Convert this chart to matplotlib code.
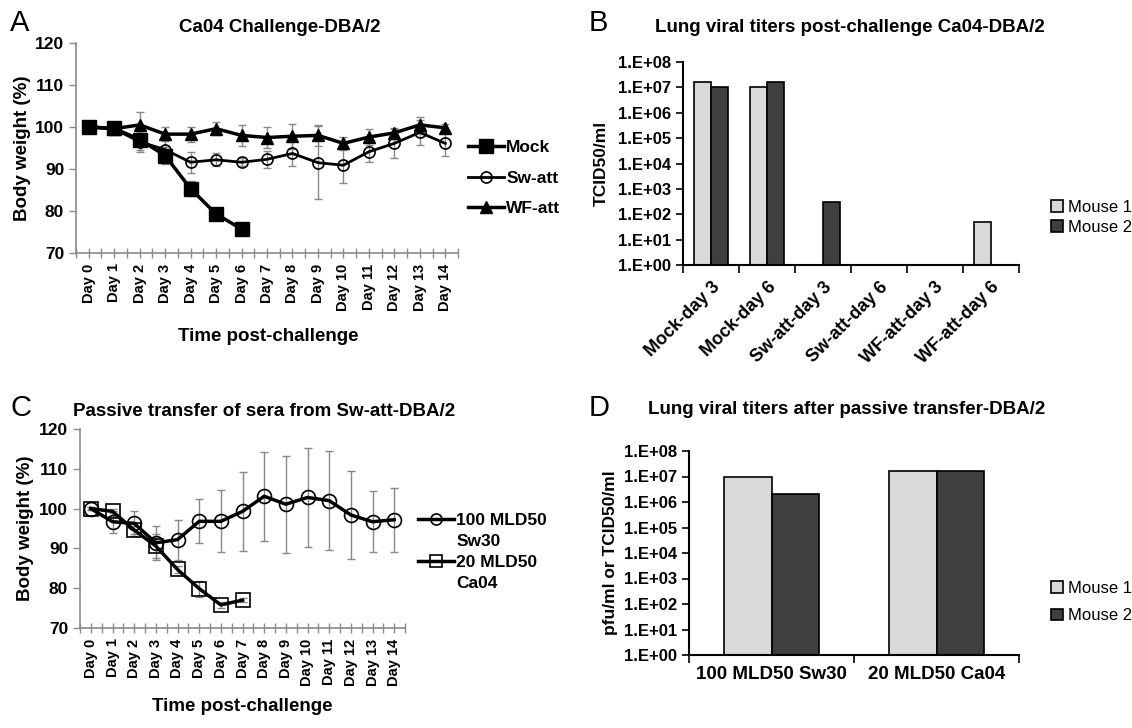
import matplotlib
matplotlib.use('Agg')
import matplotlib.pyplot as plt
import numpy as np
from matplotlib.lines import Line2D
from matplotlib.ticker import FixedLocator, FuncFormatter, NullLocator

plt.rcParams['font.family'] = ['Liberation Sans', 'DejaVu Sans']

W, H = 1132, 728

# ---- panel A data
days = ['Day %d' % d for d in range(15)]
mock = [100, 99.7, 97, 93.2, 85.3, 79.3, 75.7]
mock_err = [0.3, 0.5, 3, 2, 1.8, 0.6, 0.5]
sw_att = [100, 99.5, 96.5, 94.6, 91.6, 92.2, 91.6, 92.3, 93.7, 91.5, 90.9, 94.1, 96.1, 98.7, 96.1]
sw_att_err = [0.3, 0.5, 2, 2.5, 2.5, 1.5, 1.0, 2.0, 3.0, 8.7, 4.2, 2.5, 3.5, 3.0, 3.0]
wf_att = [100, 99.6, 100.5, 98.3, 98.3, 99.6, 98.0, 97.5, 97.8, 98.0, 96.1, 97.6, 98.6, 100.5, 99.8]
wf_att_err = [0.3, 0.5, 3.0, 1.6, 1.8, 1.5, 2.5, 2.5, 3.0, 2.5, 1.5, 2.0, 1.2, 1.8, 1.0]

# ---- panel B data
b_groups = ['Mock-day 3', 'Mock-day 6', 'Sw-att-day 3', 'Sw-att-day 6',
            'WF-att-day 3', 'WF-att-day 6']
b_mouse1 = [1.6e7, 1.0e7, np.nan, np.nan, np.nan, 50]
b_mouse2 = [1.0e7, 1.6e7, 300, np.nan, np.nan, np.nan]

# ---- panel C data
sw30 = [100, 96.7, 96.3, 91.4, 92.2, 96.8, 96.8, 99.3, 103.1, 101.1, 102.8, 102.0, 98.4, 96.7, 97.2]
sw30_err = [0.3, 2.8, 3.2, 4.2, 5.0, 5.5, 7.8, 10.0, 11.2, 12.2, 12.5, 12.4, 11.1, 7.7, 8.0]
ca04 = [100, 99.3, 94.6, 90.6, 84.7, 79.9, 75.8, 77.0]
ca04_err = [0.3, 0.5, 1.0, 3.0, 1.0, 2.0, 0.8, 0.5]

# ---- panel D data
d_groups = ['100 MLD50 Sw30', '20 MLD50 Ca04']
d_mouse1 = [1.0e7, 1.6e7]
d_mouse2 = [2.0e6, 1.6e7]

LIGHT = '#d9d9d9'
DARK = '#3f3f3f'
AXGRAY = '#8a8a8a'


def box(l, t, r, b):
    return [l / W, 1 - b / H, (r - l) / W, (b - t) / H]


def line_axes(ax):
    for s in ('top', 'right'):
        ax.spines[s].set_visible(False)
    for s in ('left', 'bottom'):
        ax.spines[s].set_color(AXGRAY)
        ax.spines[s].set_linewidth(1.2)
    ax.set_xlim(-0.5, 14.5)
    ax.set_ylim(70, 120)
    ax.set_yticks(range(70, 121, 10))
    ax.set_xticks(range(15))
    ax.set_xticklabels(days, rotation=90, fontsize=10.5, fontweight='bold')
    ax.xaxis.set_minor_locator(FixedLocator(np.arange(-0.5, 15, 1)))
    ax.tick_params(axis='x', which='both', direction='inout', length=7,
                   color=AXGRAY, width=1, pad=4)
    ax.tick_params(axis='y', direction='out', length=5, color=AXGRAY,
                   width=1, labelsize=12.5)
    for t in ax.get_yticklabels():
        t.set_fontweight('bold')


def bar_axes(ax, n):
    for s in ('top', 'right'):
        ax.spines[s].set_visible(False)
    for s in ('left', 'bottom'):
        ax.spines[s].set_color('black')
        ax.spines[s].set_linewidth(1.5)
    ax.set_yscale('log')
    ax.set_ylim(1, 1e8)
    ax.yaxis.set_major_locator(FixedLocator([10.0 ** k for k in range(9)]))
    ax.yaxis.set_minor_locator(NullLocator())
    ax.yaxis.set_major_formatter(FuncFormatter(lambda v, p: '1.E+%02d' % round(np.log10(v))))
    ax.tick_params(axis='y', direction='out', length=5, width=1.2, labelsize=12)
    for t in ax.get_yticklabels():
        t.set_fontweight('bold')
    ax.set_xlim(-0.5, n - 0.5)
    ax.set_xticks(range(n))
    ax.xaxis.set_minor_locator(FixedLocator(np.arange(-0.5, n, 1)))
    ax.tick_params(axis='x', which='major', length=0)
    ax.tick_params(axis='x', which='minor', direction='out', length=6, width=1.2)


fig = plt.figure(figsize=(W / 100, H / 100), dpi=100)

# ---------------- A
axA = fig.add_axes(box(76, 43, 458, 253))
x = np.arange(15)
for yy, ee in [(mock, mock_err), (sw_att, sw_att_err), (wf_att, wf_att_err)]:
    axA.errorbar(x[:len(yy)], yy, yerr=ee, fmt='none', ecolor='#888888',
                 elinewidth=1, capsize=3, zorder=1)
lm, = axA.plot(x[:len(mock)], mock, '-s', color='black', lw=2.5, ms=10, zorder=3)
ls, = axA.plot(x, sw_att, '-o', color='black', lw=2, ms=8, mfc='none', mew=1.2, zorder=2)
lw_, = axA.plot(x, wf_att, '-^', color='black', lw=2.5, ms=9, zorder=2)
line_axes(axA)
axA.set_ylabel('Body weight (%)', fontsize=13.5, fontweight='bold')
axA.yaxis.set_label_coords((31 - 76) / 382, 0.5)
axA.set_xlabel('Time post-challenge', fontsize=13.5, fontweight='bold')
axA.xaxis.set_label_coords((268 - 76) / 382, -(328 - 253) / 210)
fig.legend([lm, ls, lw_], ['Mock', 'Sw-att', 'WF-att'], loc='center left',
           bbox_to_anchor=(468 / W, 1 - 178 / H), frameon=False,
           prop={'weight': 'bold', 'size': 12.5}, handlelength=2.1,
           handletextpad=0.1, labelspacing=0.9, borderpad=0, borderaxespad=0)

# ---------------- B
axB = fig.add_axes(box(683, 62, 1019, 265))
xb = np.arange(len(b_groups))
bw = 0.3
axB.bar(xb - bw / 2, b_mouse1, bw, color=LIGHT, edgecolor='black', lw=1.2, label='Mouse 1')
axB.bar(xb + bw / 2, b_mouse2, bw, color=DARK, edgecolor='black', lw=1.2, label='Mouse 2')
bar_axes(axB, len(b_groups))
axB.set_xticklabels(b_groups, rotation=45, ha='right', rotation_mode='anchor',
                    fontsize=13, fontweight='bold')
axB.tick_params(axis='x', which='major', pad=10)
axB.set_ylabel('TCID50/ml', fontsize=12.5, fontweight='bold')
axB.yaxis.set_label_coords((609 - 683) / 336, 0.5)
axB.legend(loc='center left', bbox_to_anchor=((1051 - 683) / 336, 0.235), frameon=False,
           prop={'size': 12}, handlelength=0.7, handleheight=0.7,
           handletextpad=0.3, labelspacing=0.3, borderpad=0, borderaxespad=0)

# ---------------- C
axC = fig.add_axes(box(80, 429, 405, 628))
for yy, ee in [(sw30, sw30_err), (ca04, ca04_err)]:
    axC.errorbar(x[:len(yy)], yy, yerr=ee, fmt='none', ecolor='#888888',
                 elinewidth=1, capsize=3, zorder=1)
axC.plot(x, sw30, '-o', color='black', lw=2.5, ms=10, mfc='none', mew=1.2, zorder=2)
axC.plot(x[:len(ca04)], ca04, '-s', color='black', lw=2.5, ms=10, mfc='none', mew=1.2, zorder=2)
line_axes(axC)
axC.set_ylabel('Body weight (%)', fontsize=13.5, fontweight='bold')
axC.yaxis.set_label_coords((34 - 80) / 325, 0.5)
axC.set_xlabel('Time post-challenge', fontsize=13.5, fontweight='bold')
axC.xaxis.set_label_coords((242 - 80) / 325, -(698 - 628) / 199)
blank = Line2D([], [], color='none')
hc1 = Line2D([], [], color='black', lw=2.5, marker='o', ms=8, mfc='none', mew=1.2)
hc2 = Line2D([], [], color='black', lw=2.5, marker='s', ms=8, mfc='none', mew=1.2)
fig.legend([hc1, blank, hc2, blank], ['100 MLD50', 'Sw30', '20 MLD50', 'Ca04'],
           loc='center left', bbox_to_anchor=(418 / W, 1 - 552 / H), frameon=False,
           prop={'weight': 'bold', 'size': 12.5}, handlelength=2.1,
           handletextpad=0.1, labelspacing=0.35, borderpad=0, borderaxespad=0)

# ---------------- D
axD = fig.add_axes(box(689, 451, 1019, 655))
xd = np.arange(len(d_groups))
dw = 0.29
axD.bar(xd - dw / 2, d_mouse1, dw, color=LIGHT, edgecolor='black', lw=1.2, label='Mouse 1')
axD.bar(xd + dw / 2, d_mouse2, dw, color=DARK, edgecolor='black', lw=1.2, label='Mouse 2')
bar_axes(axD, len(d_groups))
axD.set_xticklabels(d_groups, fontsize=13.5, fontweight='bold')
axD.tick_params(axis='x', which='major', pad=8)
axD.set_ylabel('pfu/ml or TCID50/ml', fontsize=12.5, fontweight='bold')
axD.yaxis.set_label_coords((618 - 689) / 330, 0.5)
axD.legend(loc='center left', bbox_to_anchor=((1051 - 689) / 330, 0.26), frameon=False,
           prop={'size': 12}, handlelength=0.7, handleheight=0.7,
           handletextpad=0.3, labelspacing=0.75, borderpad=0, borderaxespad=0)

# ---------------- titles and panel letters
titles = [(280, 28, 'Ca04 Challenge-DBA/2'),
          (850, 28, 'Lung viral titers post-challenge Ca04-DBA/2'),
          (264, 412, 'Passive transfer of sera from Sw-att-DBA/2'),
          (847, 410, 'Lung viral titers after passive transfer-DBA/2')]
for tx, ty, s in titles:
    fig.text(tx / W, 1 - ty / H, s, ha='center', va='center', fontsize=13.5, fontweight='bold')
for lx, ly, s in [(10, 23, 'A'), (589, 23, 'B'), (10, 408, 'C'), (589, 408, 'D')]:
    fig.text(lx / W, 1 - ly / H, s, ha='left', va='center', fontsize=21)

fig.savefig('out.png', dpi=100)
